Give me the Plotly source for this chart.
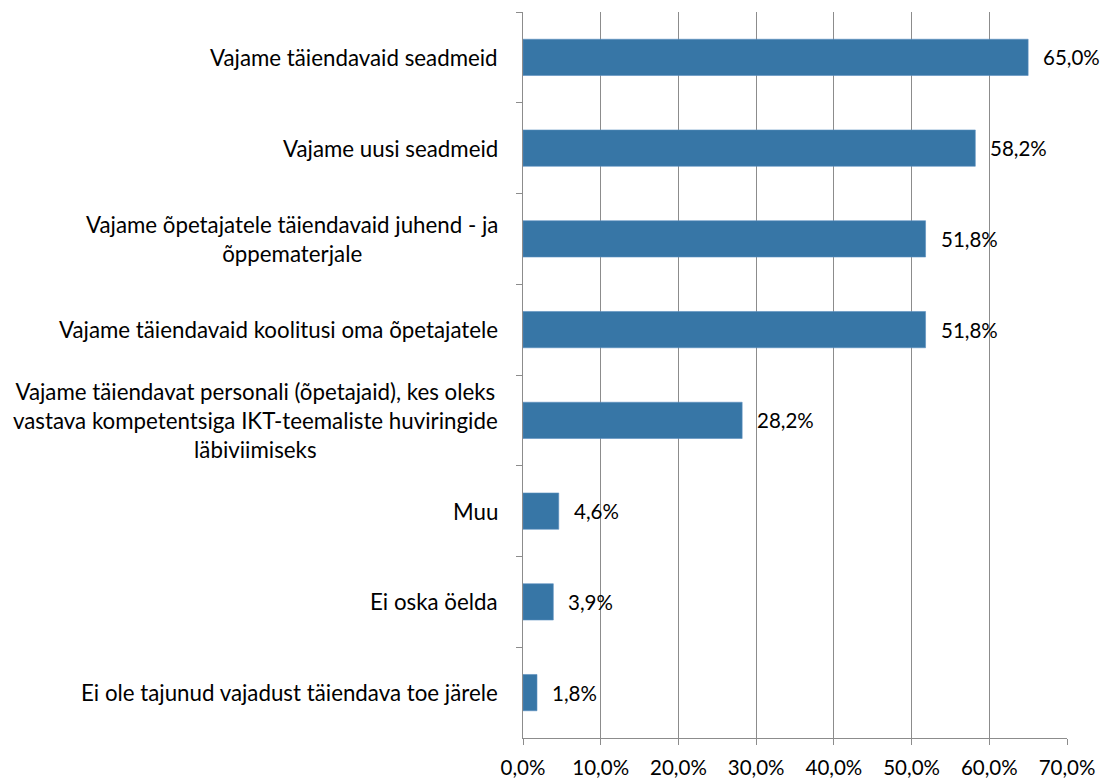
import plotly.graph_objects as go

categories = [
    "Vajame täiendavaid seadmeid",
    "Vajame uusi seadmeid",
    "Vajame õpetajatele täiendavaid juhend - ja<br>õppematerjale",
    "Vajame täiendavaid koolitusi oma õpetajatele",
    "Vajame täiendavat personali (õpetajaid), kes oleks<br>vastava kompetentsiga IKT-teemaliste huviringide<br>läbiviimiseks",
    "Muu",
    "Ei oska öelda",
    "Ei ole tajunud vajadust täiendava toe järele",
]
values = [65.0, 58.2, 51.8, 51.8, 28.2, 4.6, 3.9, 1.8]
x_ticks = [0, 10, 20, 30, 40, 50, 60, 70]

FONT = "Lato"
BAR = "#3776A6"
GRID = "#8C8C8C"

def fmt(v):
    return f"{v:.1f}".replace(".", ",") + "%"

fig = go.Figure(
    go.Bar(
        x=values,
        y=categories,
        orientation="h",
        marker=dict(color=BAR, line=dict(color="#5A8FBF", width=0.6)),
        width=0.4,
        hoverinfo="skip",
    )
)

annotations = []
for c, v in zip(categories, values):
    annotations.append(dict(
        x=v, y=c, xref="x", yref="y", text=fmt(v), showarrow=False,
        xanchor="left", yanchor="middle", xshift=13,
        font=dict(family=FONT, size=20.5, color="#000000"),
    ))
    annotations.append(dict(
        x=0, y=c, xref="paper", yref="y", text=c, showarrow=False,
        xanchor="right", yanchor="middle", xshift=-23, align="center",
        font=dict(family=FONT, size=22.3, color="#000000"),
    ))

fig.update_layout(
    width=1100, height=772,
    margin=dict(l=515, r=41, t=4, b=42),
    paper_bgcolor="white", plot_bgcolor="white",
    showlegend=False,
    separators=", ",
    annotations=annotations,
    xaxis=dict(
        range=[0, 70], tickvals=x_ticks, ticktext=[fmt(t) for t in x_ticks],
        showgrid=True, gridcolor=GRID, gridwidth=1,
        showline=True, linecolor=GRID, linewidth=1,
        ticks="outside", ticklen=6, tickcolor=GRID, tickwidth=1,
        tickfont=dict(family=FONT, size=20.5, color="#000000"),
        ticklabelstandoff=5,
        zeroline=False, fixedrange=True, automargin=False,
    ),
    yaxis=dict(
        autorange="reversed", type="category",
        showticklabels=False, showgrid=False,
        showline=True, linecolor=GRID, linewidth=1,
        ticks="outside", ticklen=6, tickcolor=GRID, tickwidth=1,
        tickson="boundaries",
        fixedrange=True, automargin=False,
    ),
)

fig.write_html("out.html")
